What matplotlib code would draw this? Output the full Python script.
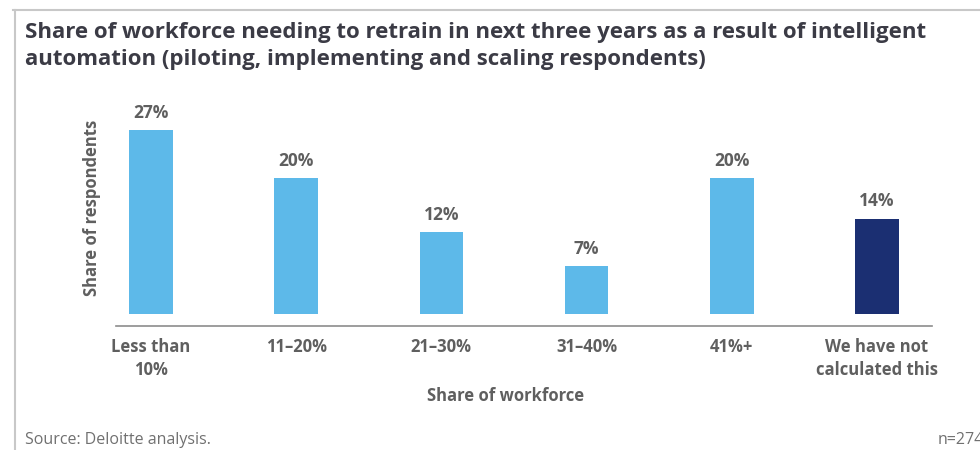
import matplotlib
matplotlib.use("Agg")
import matplotlib.pyplot as plt
from matplotlib.lines import Line2D

# Data
categories = ["Less than\n10%", "11\u201320%", "21\u201330%", "31\u201340%", "41%+",
              "We have not\ncalculated this"]
values = [27, 20, 12, 7, 20, 14]
bar_colors = ["#5db9e9"] * 5 + ["#1b2f72"]

title = ("Share of workforce needing to retrain in next three years as a result of intelligent\n"
         "automation (piloting, implementing and scaling respondents)")
source = "Source: Deloitte analysis."
n_note = "n=274"

plt.rcParams["font.family"] = ["Open Sans", "DejaVu Sans"]

fig = plt.figure(figsize=(9.8, 4.5), dpi=100)
fig.patch.set_facecolor("white")

# frame lines (top and left)
fig.add_artist(Line2D([13 / 980, 1], [1 - 10 / 450] * 2, color="#c8c8c8", lw=1.5))
fig.add_artist(Line2D([15 / 980] * 2, [0, 1 - 10 / 450], color="#c8c8c8", lw=1.5))

ax = fig.add_axes([116 / 980, 1 - 326 / 450, 816 / 980, 226 / 450])
x = range(len(values))
bars = ax.bar(x, values, width=0.30, color=bar_colors)

for xi, v in zip(x, values):
    ax.text(xi, v + 1.2, f"{v}%", ha="center", va="bottom", fontsize=12.5,
            fontweight="bold", color="#5f5f5f")

ax.set_xlim(-0.241, 5.379)
ax.set_ylim(-1.76, 31.4)
for s in ["top", "right", "left"]:
    ax.spines[s].set_visible(False)
ax.spines["bottom"].set_color("#8c8c8c")
ax.spines["bottom"].set_linewidth(1.2)
ax.set_yticks([])
ax.set_xticks(list(x))
ax.set_xticklabels(categories, fontsize=12, fontweight="bold", color="#5f5f5f",
                   linespacing=1.35)
ax.tick_params(axis="x", length=0, pad=9)

ax.set_xlabel("Share of workforce", fontsize=12, fontweight="bold", color="#5f5f5f")
ax.xaxis.set_label_coords((506 - 116) / 816, -61 / 226)
fig.text(92 / 980, 1 - 208 / 450, "Share of respondents", rotation=90, ha="center",
         va="center", fontsize=12, fontweight="bold", color="#5f5f5f")

fig.text(25 / 980, 1 - 46 / 450, title, ha="left", va="center", fontsize=16,
         fontweight="bold", color="#3b3b45", linespacing=1.35)
fig.text(25 / 980, 1 - 440 / 450, source, ha="left", va="center", fontsize=11.5,
         color="#707070")
fig.text(938 / 980, 1 - 440 / 450, n_note, ha="left", va="center", fontsize=11.5,
         color="#707070")

fig.savefig("out.png", dpi=100)
